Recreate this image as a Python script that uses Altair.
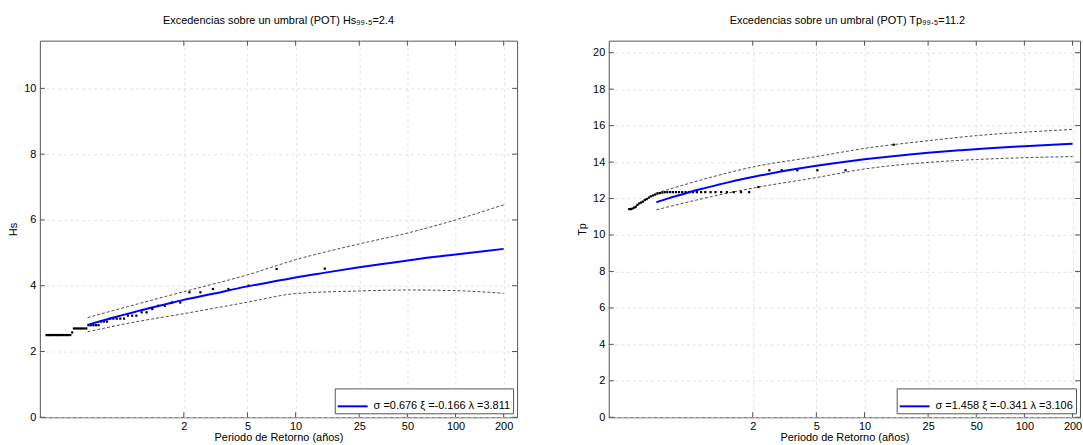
import altair as alt
import pandas as pd

FONT = "Liberation Sans"

# Axis tick labels
x_ticks = [2, 5, 10, 25, 50, 100, 200]
hs_y_ticks = [0, 2, 4, 6, 8, 10]
tp_y_ticks = [0, 2, 4, 6, 8, 10, 12, 14, 16, 18, 20]

# Empirical return periods (years) of the ranked exceedances
T_obs = [15.22, 7.61, 5.07, 3.80, 3.04, 2.54, 2.17, 1.90, 1.69, 1.52,
         1.38, 1.27, 1.17, 1.09, 1.01, 0.951, 0.895, 0.846, 0.801, 0.761,
         0.725, 0.692, 0.662, 0.634, 0.609, 0.585, 0.564, 0.544, 0.525, 0.507,
         0.491, 0.476, 0.461, 0.448, 0.435, 0.423, 0.411, 0.401, 0.390, 0.380,
         0.371, 0.363, 0.354, 0.346, 0.338, 0.331, 0.324, 0.317, 0.310, 0.304,
         0.298, 0.292, 0.287, 0.282, 0.277]

hs_obs = [4.52, 4.51, 4.00, 3.90, 3.90, 3.80, 3.80, 3.49, 3.49, 3.39,
          3.39, 3.29, 3.19, 3.19, 3.09, 3.09, 3.09, 3.00, 3.00, 3.00,
          3.00, 3.00, 2.91, 2.91, 2.91, 2.80, 2.80, 2.80, 2.80, 2.80,
          2.70, 2.70, 2.70, 2.70, 2.70, 2.70, 2.70, 2.58, 2.50, 2.50,
          2.50, 2.50, 2.50, 2.50, 2.50, 2.50, 2.50, 2.50, 2.50, 2.50,
          2.50, 2.50, 2.50, 2.50, 2.50]

tp_obs = [14.95, 13.55, 13.55, 13.55, 13.55, 13.55, 12.63, 12.35, 12.35, 12.35,
          12.35, 12.35, 12.35, 12.35, 12.35, 12.35, 12.35, 12.35, 12.35, 12.35,
          12.35, 12.35, 12.35, 12.35, 12.35, 12.35, 12.35, 12.33, 12.30, 12.27,
          12.22, 12.17, 12.12, 12.05, 11.97, 11.92, 11.83, 11.78, 11.73, 11.65,
          11.55, 11.50, 11.45, 11.42, 11.42]

# Fitted POT (GPD) return-level curves
T_fit = [0.5, 0.6, 0.7, 0.85, 1, 1.25, 1.5, 2, 3, 5, 7, 10, 15, 25, 40, 60, 100, 150, 200]
hs_fit = [2.81, 2.92, 3.01, 3.12, 3.21, 3.33, 3.42, 3.57, 3.75, 3.98, 4.11, 4.25,
          4.39, 4.56, 4.70, 4.82, 4.95, 5.05, 5.12]
tp_fit = [11.80, 12.02, 12.19, 12.41, 12.57, 12.78, 12.95, 13.18, 13.48, 13.80,
          13.98, 14.15, 14.32, 14.51, 14.65, 14.76, 14.87, 14.95, 15.00]

# Confidence bands
T_ci = [0.5, 1, 2, 5, 10, 25, 50, 100, 200]
hs_up = [3.03, 3.43, 3.82, 4.33, 4.79, 5.27, 5.60, 6.00, 6.46]
hs_lo = [2.60, 2.90, 3.15, 3.50, 3.76, 3.84, 3.87, 3.85, 3.77]
tp_up = [12.30, 13.07, 13.73, 14.30, 14.75, 15.17, 15.45, 15.64, 15.79]
tp_lo = [11.38, 12.02, 12.57, 13.15, 13.62, 13.98, 14.14, 14.24, 14.30]

hs_label = "σ =0.676 ξ =-0.166 λ =3.811"
tp_label = "σ =1.458 ξ =-0.341 λ =3.106"

H = 378


def panel(title, ytitle, ymax, yticks, obs_vals, fit_vals, up, lo, label, width, xmax, tdx):
    xs = alt.Scale(type="log", domain=[0.2516, xmax], nice=False)
    ys = alt.Scale(domain=[0, ymax], nice=False, zero=False)
    xaxis = alt.Axis(values=x_ticks, format="d", title="Periodo de Retorno (años)",
                     labelPadding=3, titlePadding=0, labelOverlap=False)
    yaxis = alt.Axis(values=yticks, title=ytitle, labelPadding=4, titlePadding=5,
                     labelOverlap=False)

    def X(f):
        return alt.X(f, scale=xs, axis=xaxis)

    def Y(f):
        return alt.Y(f, scale=ys, axis=yaxis)

    obs = pd.DataFrame({"T": T_obs[:len(obs_vals)], "v": obs_vals})
    fit = pd.DataFrame({"T": T_fit, "v": fit_vals, "leg": [label] * len(T_fit)})
    ci = pd.DataFrame({"T": T_ci + T_ci, "v": up + lo,
                       "b": ["up"] * len(T_ci) + ["lo"] * len(T_ci)})

    ci_layer = alt.Chart(ci).mark_line(
        color="#222222", strokeWidth=0.8, strokeDash=[3, 2], interpolate="monotone", clip=True
    ).encode(x=X("T:Q"), y=Y("v:Q"), detail="b:N")
    fit_layer = alt.Chart(fit).mark_line(strokeWidth=2, interpolate="monotone", clip=True).encode(
        x=X("T:Q"), y=Y("v:Q"),
        color=alt.Color("leg:N", scale=alt.Scale(domain=[label], range=["#0000ff"]),
                        legend=alt.Legend(title=None)),
    )
    pts = alt.Chart(obs).mark_square(size=5, color="black", opacity=1).encode(
        x=X("T:Q"), y=Y("v:Q")
    )

    xt = pd.DataFrame({"T": x_ticks})
    yt = pd.DataFrame({"v": yticks})
    tick_kw = dict(thickness=1, size=5, color="#555555", opacity=1)
    xb = alt.Chart(xt).mark_tick(orient="vertical", **tick_kw).encode(
        x=X("T:Q"), y=alt.value(H - 2.5))
    xtp = alt.Chart(xt).mark_tick(orient="vertical", **tick_kw).encode(
        x=X("T:Q"), y=alt.value(2.5))
    yl = alt.Chart(yt).mark_tick(orient="horizontal", **tick_kw).encode(
        y=Y("v:Q"), x=alt.value(2.5))
    yr = alt.Chart(yt).mark_tick(orient="horizontal", **tick_kw).encode(
        y=Y("v:Q"), x=alt.value(width - 2.5))

    return alt.layer(ci_layer, xb, xtp, yl, yr, pts, fit_layer).properties(
        width=width, height=H,
        title=alt.TitleParams(text=title, fontSize=11, fontWeight="normal", font=FONT,
                              color="black", offset=15, anchor="middle", dx=tdx),
    )


left = panel("Excedencias sobre un umbral (POT)  Hs₉₉.₅=2.4", "Hs", 11.45, hs_y_ticks,
             hs_obs, hs_fit, hs_up, hs_lo, hs_label, 479, 242.7, 0)
right = panel("Excedencias sobre un umbral (POT)  Tp₉₉.₅=11.2", "Tp", 20.66, tp_y_ticks,
              tp_obs, tp_fit, tp_up, tp_lo, tp_label, 473, 222.7, 3)

chart = alt.hconcat(left, right, spacing=58).resolve_scale(
    color="independent"
).configure(
    padding={"left": 7, "top": 13, "right": 0, "bottom": 0}, font=FONT
).configure_view(
    stroke="#555555", strokeWidth=1
).configure_axis(
    labelFont=FONT, labelFontSize=11, labelColor="black",
    titleFont=FONT, titleFontSize=11, titleFontWeight="normal", titleColor="black",
    grid=True, gridColor="#dcdcdc", gridDash=[3, 3], gridWidth=0.8,
    domain=False, ticks=False,
).configure_legend(
    orient="bottom-right", offset=4, padding=2, strokeColor="#555555", fillColor="white",
    symbolType="M-1,0H1", symbolSize=900, symbolStrokeWidth=2, labelFont=FONT,
    labelFontSize=11, labelColor="black", labelOffset=5, cornerRadius=0,
)

chart.save("out.html", embed_options={"renderer": "svg", "actions": False})
